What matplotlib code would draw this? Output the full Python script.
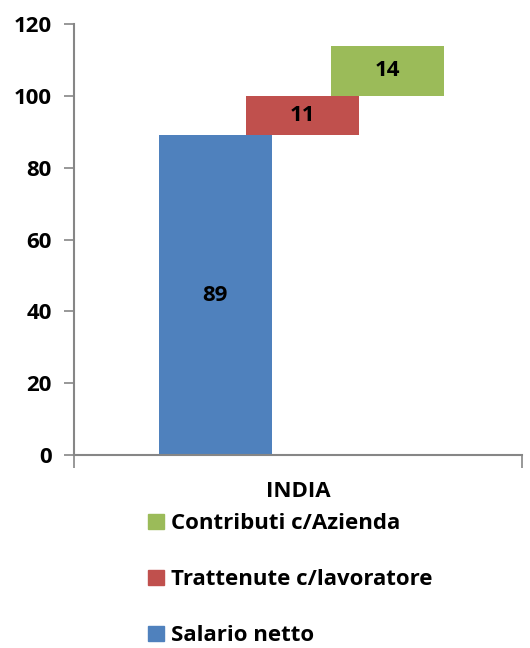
import numpy as np
import matplotlib.pyplot as plt
from matplotlib.patches import Patch

plt.rcParams["font.family"] = ["Open Sans", "DejaVu Sans"]
plt.rcParams["font.weight"] = "bold"

categories = ["INDIA"]
series_names = ["Salario netto", "Trattenute c/lavoratore", "Contributi c/Azienda"]
series_values = [89, 11, 14]
series_colors = ["#4f81bd", "#c0504d", "#9bbb59"]
y_ticks = [0, 20, 40, 60, 80, 100, 120]

offsets = [-0.185, 0.01, 0.2]
bar_width = 0.252

fig = plt.figure(figsize=(5.3, 6.48), dpi=100)
ax = fig.add_axes([0.1396, 0.2978, 0.8454, 0.6652])

bottoms = np.concatenate([[0], np.cumsum(series_values)[:-1]])
for value, bottom, off, color in zip(series_values, bottoms, offsets, series_colors):
    ax.bar(off, value, bottom=bottom, width=bar_width, color=color)
    ax.text(off, bottom + value / 2, str(value), ha="center", va="center",
            fontsize=16, fontweight="bold", color="black")

ax.set_xlim(-0.5, 0.5)
ax.set_ylim(0, 120)
ax.set_yticks(y_ticks)
ax.set_yticklabels([str(t) for t in y_ticks], fontsize=16, fontweight="bold")
ax.set_xticks([-0.5, 0.5])
ax.set_xticklabels(["", ""])
ax.tick_params(axis="y", length=7, width=1.2, color="#868686", pad=9)
ax.tick_params(axis="x", length=9, width=1.2, color="#868686")
ax.text(0.5, -0.085, categories[0], transform=ax.transAxes, ha="center", va="center",
        fontsize=16, fontweight="bold")
for side in ["top", "right"]:
    ax.spines[side].set_visible(False)
for side in ["left", "bottom"]:
    ax.spines[side].set_color("#868686")
    ax.spines[side].set_linewidth(1.5)

handles = [Patch(color=c, label=n) for c, n in zip(series_colors, series_names)][::-1]
fig.legend(handles=handles, loc="upper left", bbox_to_anchor=(0.28, 0.208),
           frameon=False, fontsize=16, handlelength=0.7, handleheight=0.7,
           handletextpad=0.3, labelspacing=1.58, borderaxespad=0, borderpad=0)

fig.savefig("out.png", dpi=100)
